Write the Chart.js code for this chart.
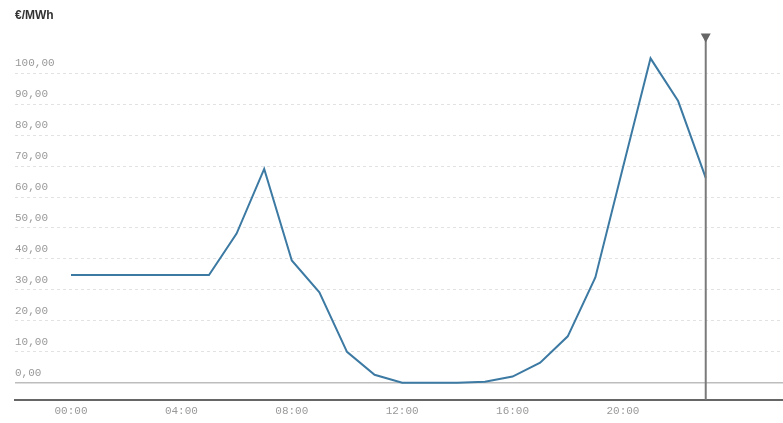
<!DOCTYPE html>
<html>
<head>
<meta charset="utf-8">
<script src="https://cdn.jsdelivr.net/npm/chart.js@4.4.1/dist/chart.umd.min.js"></script>
<style>
  html, body { margin: 0; padding: 0; background: #fff; }
  #wrap { width: 783px; height: 423px; }
</style>
</head>
<body>
<div id="wrap"><canvas id="priceChart"></canvas></div>
<script>
// hourly prices (€/MWh)
const hours = [0, 1, 2, 3, 4, 5, 6, 7, 8, 9, 10, 11, 12, 13, 14, 15, 16, 17, 18, 19, 20, 21, 22, 23];
const prices = [34.8, 34.8, 34.8, 34.8, 34.8, 34.8, 48.2, 69.1, 39.5, 29.2, 10.0, 2.6, 0, 0, 0, 0.3, 2.0, 6.5, 15.0, 34.0, 69.5, 104.8, 91.0, 66.2];

const xTickHours = [0, 4, 8, 12, 16, 20];
const xTickLabels = ['00:00', '04:00', '08:00', '12:00', '16:00', '20:00'];
const yTickValues = [0, 10, 20, 30, 40, 50, 60, 70, 80, 90, 100];
const markerHour = 23;
const unitLabel = '€/MWh';

const tickFont = { family: 'Liberation Mono', size: 11 };

// solid zero line + the vertical "now" marker with its little triangle
const overlays = {
  id: 'overlays',
  beforeDatasetsDraw(chart) {
    const { ctx, chartArea, scales } = chart;
    const y0 = scales.y.getPixelForValue(0);
    ctx.save();
    ctx.strokeStyle = '#bdbdbd';
    ctx.lineWidth = 1.5;
    ctx.beginPath();
    ctx.moveTo(chartArea.left, y0);
    ctx.lineTo(chartArea.right, y0);
    ctx.stroke();
    ctx.restore();
  },
  afterDatasetsDraw(chart) {
    const { ctx, chartArea, scales } = chart;
    const x = scales.x.getPixelForValue(markerHour);
    const top = chartArea.top + 3;
    ctx.save();
    ctx.strokeStyle = '#7a7a7a';
    ctx.lineWidth = 2;
    ctx.beginPath();
    ctx.moveTo(x, top);
    ctx.lineTo(x, chartArea.bottom);
    ctx.stroke();
    ctx.fillStyle = '#666';
    ctx.beginPath();
    ctx.moveTo(x - 5, top - 1);
    ctx.lineTo(x + 5, top - 1);
    ctx.lineTo(x, top + 8);
    ctx.closePath();
    ctx.fill();
    ctx.restore();
  }
};

const ctx = document.getElementById('priceChart').getContext('2d');
const priceChart = new Chart(ctx, {
  type: 'line',
  data: {
    datasets: [{
      data: hours.map((h, i) => ({ x: h, y: prices[i] })),
      borderColor: '#3d7aa3',
      borderWidth: 2,
      pointRadius: 0,
      tension: 0,
      fill: false
    }]
  },
  options: {
    responsive: true,
    maintainAspectRatio: false,
    animation: false,
    layout: { padding: { left: 15, right: 0, top: 0, bottom: 0 } },
    plugins: {
      legend: { display: false },
      tooltip: { enabled: false },
      title: {
        display: true,
        text: unitLabel,
        align: 'start',
        color: '#333',
        font: { family: 'Liberation Sans', size: 12, weight: 'bold' },
        padding: { top: 8, bottom: 9 }
      }
    },
    scales: {
      x: {
        type: 'linear',
        min: -2.03,
        max: 25.8,
        afterBuildTicks: scale => { scale.ticks = xTickHours.map(v => ({ value: v })); },
        ticks: {
          color: '#999',
          font: tickFont,
          padding: 5,
          maxRotation: 0,
          callback: v => xTickLabels[xTickHours.indexOf(v)]
        },
        grid: { display: false, drawTicks: false },
        border: { display: true, color: '#666', width: 2 }
      },
      y: {
        min: -5.5,
        max: 113.5,
        afterBuildTicks: scale => { scale.ticks = yTickValues.map(v => ({ value: v })); },
        ticks: {
          mirror: true,
          padding: 0,
          labelOffset: -10,
          color: '#999',
          font: tickFont,
          callback: v => v.toFixed(2).replace('.', ',')
        },
        grid: {
          drawTicks: false,
          color: c => (c.tick && c.tick.value === 0) ? 'rgba(0,0,0,0)' : '#e2e2e2',
          lineWidth: 1
        },
        border: { display: false, dash: [3, 3] }
      }
    }
  },
  plugins: [overlays]
});
</script>
</body>
</html>
